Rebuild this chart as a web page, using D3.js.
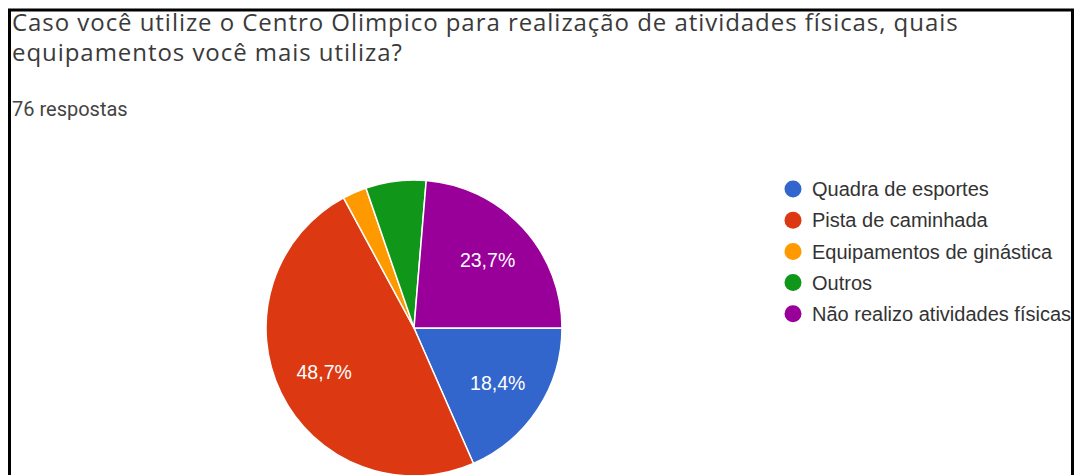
<!DOCTYPE html>
<html>
<head>
<meta charset="utf-8">
<script src="https://cdn.jsdelivr.net/npm/d3@7"></script>
<style>
  html, body { margin: 0; padding: 0; background: #fff; }
  svg { display: block; }
</style>
</head>
<body>
<svg id="chart"></svg>
<script>
const categories = [
    "Quadra de esportes",
    "Pista de caminhada",
    "Equipamentos de ginástica",
    "Outros",
    "Não realizo atividades físicas"
];
const responses = [14, 37, 2, 5, 18];
const colors = ["#3366cc", "#dc3912", "#ff9900", "#109618", "#990099"];
const titleLines = [
    "Caso você utilize o Centro Olimpico para realização de atividades físicas, quais",
    "equipamentos você mais utiliza?"
];
const subtitle = "76 respostas";

function initPieChart() {
    const width = 1076, height = 475;
    const svg = d3.select("#chart").attr("width", width).attr("height", height);

    // frame round the screenshot
    const frame = svg.append("g").attr("stroke", "#000").attr("stroke-width", 3);
    frame.append("line").attr("x1", 8).attr("x2", 1074).attr("y1", 10).attr("y2", 10);
    frame.append("line").attr("x1", 9.5).attr("x2", 9.5).attr("y1", 10).attr("y2", height);
    frame.append("line").attr("x1", 1072.5).attr("x2", 1072.5).attr("y1", 10).attr("y2", height);

    svg.append("g")
        .selectAll("text")
        .data(titleLines)
        .enter()
        .append("text")
        .attr("x", 12)
        .attr("y", (d, i) => 31 + i * 30)
        .style("font-family", "'Open Sans', sans-serif")
        .style("font-size", "24px")
        .style("letter-spacing", "0.95px")
        .attr("fill", "#3a3a3a")
        .text(d => d);

    svg.append("text")
        .attr("x", 12)
        .attr("y", 116)
        .style("font-family", "Roboto, sans-serif")
        .style("font-size", "20px")
        .attr("fill", "#444")
        .text(subtitle);

    const total = d3.sum(responses);
    const radius = 148;
    const pieG = svg.append("g").attr("transform", "translate(414,328)");

    const pie = d3.pie()
        .sort(null)
        .startAngle(Math.PI / 2)
        .endAngle(Math.PI / 2 + 2 * Math.PI)
        .value(d => d);

    const arcs = pie(responses);
    const arc = d3.arc().innerRadius(0).outerRadius(radius);
    const labelArc = d3.arc().innerRadius(100).outerRadius(100);

    pieG.selectAll("path")
        .data(arcs)
        .enter()
        .append("path")
        .attr("d", arc)
        .attr("fill", (d, i) => colors[i])
        .attr("stroke", "#fff")
        .attr("stroke-width", 1.5);

    pieG.selectAll("text")
        .data(arcs.filter(d => d.value / total > 0.1))
        .enter()
        .append("text")
        .attr("transform", d => `translate(${labelArc.centroid(d)})`)
        .attr("text-anchor", "middle")
        .attr("dy", "0.35em")
        .style("font-family", "'Liberation Sans', Arial, sans-serif")
        .style("font-size", "19.5px")
        .attr("fill", "#fff")
        .text(d => (d.value / total * 100).toFixed(1).replace(".", ",") + "%");

    const legend = svg.append("g").attr("transform", "translate(793,189)");
    const rows = legend.selectAll("g")
        .data(categories)
        .enter()
        .append("g")
        .attr("transform", (d, i) => `translate(0,${i * 31.2})`);

    rows.append("circle")
        .attr("r", 8.5)
        .attr("fill", (d, i) => colors[i]);

    rows.append("text")
        .attr("x", 19)
        .attr("dy", "0.36em")
        .style("font-family", "'Liberation Sans', Arial, sans-serif")
        .style("font-size", "20px")
        .attr("fill", "#333")
        .text(d => d);
}

document.addEventListener("DOMContentLoaded", initPieChart);
</script>
</body>
</html>
